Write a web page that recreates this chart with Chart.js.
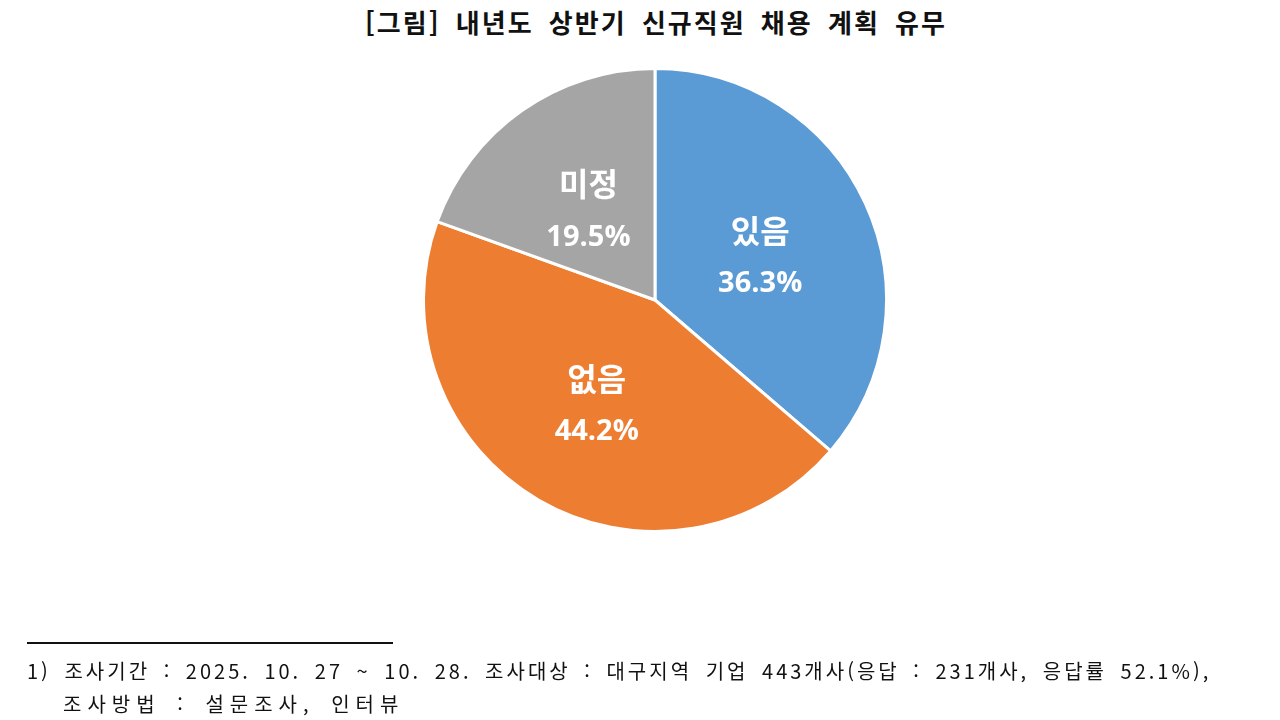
<!DOCTYPE html>
<html lang="ko">
<head>
<meta charset="utf-8">
<script src="https://cdn.jsdelivr.net/npm/chart.js@4.4.1/dist/chart.umd.min.js"></script>
<style>
    html, body { margin: 0; padding: 0; background: #fff; }
    #wrap { position: relative; width: 1280px; height: 720px; overflow: hidden; }
    #pieChart { position: absolute; left: 0; top: 0; }
    .title {
        position: absolute; left: 0; width: 1312px; top: 3px; text-align: center;
        font-family: "Noto Sans CJK KR", sans-serif; font-weight: bold; font-size: 26px;
        color: #111; letter-spacing: 2px; word-spacing: 6px;
    }
    .rule { position: absolute; left: 27px; top: 642px; width: 366px; height: 2px; background: #111; }
    .note {
        position: absolute; font-family: "Noto Sans CJK KR", sans-serif; font-size: 20px;
        color: #111; white-space: nowrap; letter-spacing: 3px; word-spacing: 5px;
    }
    .note.second { letter-spacing: 6px; }
</style>
</head>
<body>
<div id="wrap">
    <div class="title">[그림] 내년도 상반기 신규직원 채용 계획 유무</div>
    <canvas id="pieChart" width="1280" height="720"></canvas>
    <div class="rule"></div>
    <div class="note" style="left:27px; top:656px;">1) 조사기간 : 2025. 10. 27 ~ 10. 28. 조사대상 : 대구지역 기업 443개사(응답 : 231개사, 응답률 52.1%),</div>
    <div class="note second" style="left:63px; top:689px;">조사방법 : 설문조사, 인터뷰</div>
</div>
<script>
// Data
const categories = ['있음', '없음', '미정'];
const shares = [36.3, 44.2, 19.5];
const sliceColors = ['#5B9BD5', '#ED7D31', '#A5A5A5'];

// Draws the name and percent inside each slice
const sliceLabels = {
    id: 'sliceLabels',
    afterDatasetsDraw(chart) {
        const ctx = chart.ctx;
        const meta = chart.getDatasetMeta(0);
        ctx.save();
        ctx.fillStyle = '#fff';
        ctx.textAlign = 'center';
        ctx.textBaseline = 'middle';
        meta.data.forEach(function (arc, i) {
            const p = arc.getCenterPoint();
            ctx.font = 'bold 32px "Noto Sans CJK KR", sans-serif';
            ctx.fillText(categories[i], p.x, p.y - 21);
            ctx.font = 'bold 29px "Open Sans", sans-serif';
            ctx.fillText(shares[i].toFixed(1) + '%', p.x, p.y + 32);
        });
        ctx.restore();
    }
};

const ctx = document.getElementById('pieChart').getContext('2d');
new Chart(ctx, {
    type: 'pie',
    data: {
        labels: categories,
        datasets: [{
            data: shares,
            backgroundColor: sliceColors,
            borderColor: '#fff',
            borderWidth: 3
        }]
    },
    options: {
        responsive: false,
        animation: false,
        layout: { padding: { left: 422, right: 392, top: 67, bottom: 187 } },
        plugins: {
            legend: { display: false },
            tooltip: { enabled: false }
        }
    },
    plugins: [sliceLabels]
});
</script>
</body>
</html>
